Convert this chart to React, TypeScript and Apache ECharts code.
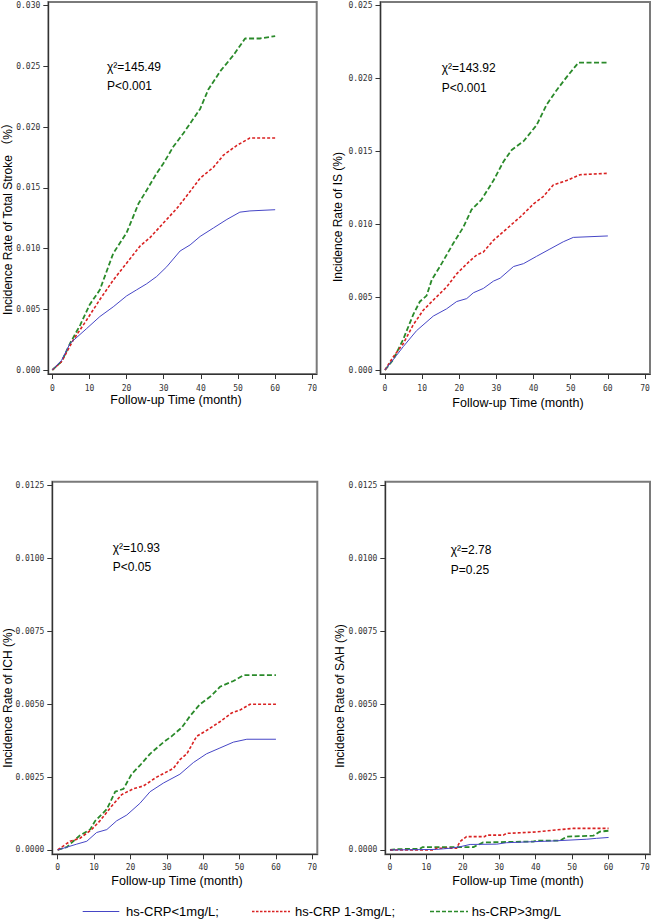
import React, { useEffect, useRef } from "react";
import * as echarts from "echarts";

// ---------- data ----------
const X_TICKS = [0, 10, 20, 30, 40, 50, 60, 70];
const Y_TICKS_TOTAL = [0, 0.005, 0.01, 0.015, 0.02, 0.025, 0.03];
const Y_TICKS_IS = [0, 0.005, 0.01, 0.015, 0.02, 0.025];
const Y_TICKS_SMALL = [0, 0.0025, 0.005, 0.0075, 0.01, 0.0125];

const GROUPS = ["hs-CRP<1mg/L;", "hs-CRP 1-3mg/L;", "hs-CRP>3mg/L"];

const totalLow = [[0,0],[2.5,0.0008],[4.8,0.0022],[9.2,0.0034],[12.8,0.0044],[16.4,0.0052],[20,0.0061],[22.7,0.0066],[25.4,0.0071],[28.1,0.0077],[30.8,0.0085],[34.4,0.0098],[37.1,0.0103],[39.8,0.011],[43.4,0.0117],[47,0.0124],[50.5,0.013],[53.2,0.0131],[60,0.0132]];
const totalMid = [[0,0],[2.5,0.0007],[5.7,0.0025],[9.2,0.0041],[12.8,0.0058],[16.4,0.0074],[20,0.0088],[23.6,0.0102],[26.3,0.0109],[29.9,0.0121],[33.5,0.0133],[36.6,0.0145],[39.8,0.0158],[43.4,0.0167],[46.1,0.0177],[49.7,0.0185],[53.2,0.0191],[60,0.0191]];
const totalHigh = [[0,0],[2.5,0.0007],[4.8,0.0022],[7.5,0.0037],[10.1,0.0054],[12.8,0.0066],[16.4,0.0096],[20,0.0113],[23.2,0.0137],[25.4,0.0148],[28.1,0.0162],[29.9,0.017],[32.6,0.0184],[35.3,0.0195],[39.8,0.0215],[42,0.0231],[45.2,0.0246],[48.7,0.0259],[51.9,0.0273],[55.9,0.0273],[60,0.0275]];

const isLow = [[0,0],[3.1,0.001],[4.9,0.0016],[8.5,0.0027],[13,0.0037],[16.6,0.0042],[19.3,0.0047],[22,0.0049],[23.8,0.0053],[26.5,0.0056],[29.2,0.0061],[31,0.0063],[34.6,0.0071],[37.3,0.0073],[40.8,0.0078],[44.4,0.0083],[48,0.0088],[50.7,0.0091],[60,0.0092]];
const isMid = [[0,0],[2.2,0.0009],[4.9,0.0018],[7.6,0.0031],[10.3,0.0041],[13,0.0048],[16.6,0.0057],[19.3,0.0066],[22.9,0.0075],[24.7,0.0079],[26.5,0.0081],[29.2,0.0089],[32.8,0.0097],[36.4,0.0105],[40,0.0114],[42.6,0.0119],[45.3,0.0127],[48.9,0.013],[52.5,0.0134],[60,0.0135]];
const isHigh = [[0,0],[2.2,0.0007],[4.9,0.0021],[7.6,0.0038],[9.4,0.0047],[11.2,0.0051],[12.6,0.0062],[14.8,0.0071],[18.4,0.0087],[21.1,0.0098],[23.3,0.011],[26,0.0117],[29.2,0.013],[31.9,0.0143],[34.1,0.0151],[37.3,0.0157],[40.8,0.0168],[43.5,0.0182],[46.2,0.0192],[48.9,0.0201],[52.1,0.0211],[60,0.0211]];

const ichLow = [[0,0],[5.2,0.0002],[8,0.0003],[10.7,0.0006],[13.5,0.0007],[16.2,0.001],[19,0.0012],[22.6,0.0016],[25.4,0.002],[29.1,0.0023],[33.6,0.0026],[37.3,0.003],[40.9,0.0033],[44.6,0.0035],[48.3,0.0037],[52,0.0038],[60,0.0038]];
const ichMid = [[0,0],[3.4,0.0003],[6.1,0.0004],[9.3,0.0007],[11.6,0.001],[14.8,0.0015],[17.6,0.0019],[20.8,0.0021],[23.6,0.0022],[27.2,0.0025],[31.8,0.0028],[33.6,0.0031],[35.5,0.0033],[38.2,0.0039],[40.9,0.0041],[44.6,0.0044],[47.8,0.0047],[50.1,0.0048],[52.9,0.005],[60,0.005]];
const ichHigh = [[0,0],[2.5,0.0001],[6.1,0.0005],[8.9,0.0007],[10.3,0.001],[13.5,0.0014],[15.8,0.002],[18.1,0.0021],[20.3,0.0026],[22.6,0.0029],[25.4,0.0033],[29.1,0.0037],[31.3,0.0039],[34.1,0.0042],[36.4,0.0046],[39.1,0.005],[42.3,0.0053],[44.6,0.0056],[48.3,0.0058],[51.1,0.006],[60,0.006]];

const sahLow = [[0,0],[12.8,0.00002],[16.5,0.00006],[19.2,0.00011],[22,0.00019],[29.3,0.0002],[32,0.00025],[44.8,0.00031],[54,0.00037],[56.7,0.0004],[60,0.00043]];
const sahMid = [[0,0],[12,0],[12.8,0.00006],[18.3,0.00006],[19.2,0.00029],[21,0.00046],[26,0.00046],[26.5,0.00051],[31.1,0.00051],[32,0.00057],[35.7,0.00059],[40.3,0.00062],[45.7,0.00069],[50.3,0.00074],[60,0.00074]];
const sahHigh = [[0,0],[2,0.00003],[8.2,0.00004],[9,0.0001],[22.9,0.0001],[25.6,0.00026],[39.3,0.00029],[40.3,0.00032],[46.7,0.00032],[48.5,0.00046],[55.8,0.00049],[57.6,0.00063],[60,0.00066]];

const Y_TITLES = ["Incidence Rate of Total Stroke （%）", "Incidence Rate of IS (%)", "Incidence Rate of ICH (%)", "Incidence Rate of SAH (%)"];
const STAT_CHI = ["χ²=145.49", "χ²=143.92", "χ²=10.93", "χ²=2.78"];
const STAT_P = ["P<0.001", "P<0.001", "P<0.05", "P=0.25"];
const X_TITLE = "Follow-up Time (month)";

// ---------- layout ----------
const PANELS = [
  { box: [48.3, 2, 316.7, 374], xr: [-1.077, 71.18], yr: [-0.000329, 0.030305], yt: Y_TICKS_TOTAL, dec: 3, data: [totalLow, totalMid, totalHigh],
    stat: [107, 67, 86], ytitle: [7.5, 216], xtitle: [176, 400], xlm: 10 },
  { box: [380.5, 2, 650, 374], xr: [-1.21, 71.35], yr: [-0.000274, 0.025254], yt: Y_TICKS_IS, dec: 3, data: [isLow, isMid, isHigh],
    stat: [441.7, 68, 88], ytitle: [338, 217], xtitle: [518, 403], xlm: 10 },
  { box: [52.3, 481.7, 317.3, 854.3], xr: [-1.485, 71.37], yr: [-0.000148, 0.012637], yt: Y_TICKS_SMALL, dec: 4, data: [ichLow, ichMid, ichHigh],
    stat: [112.7, 548, 567], ytitle: [7.5, 698], xtitle: [177, 881], xlm: 9 },
  { box: [385.3, 481.7, 650, 854.3], xr: [-1.29, 71.37], yr: [-0.000148, 0.012637], yt: Y_TICKS_SMALL, dec: 4, data: [sahLow, sahMid, sahHigh],
    stat: [450.7, 550, 569.5], ytitle: [340, 696], xtitle: [518, 881], xlm: 9 },
];

const LINE_STYLES = [
  { color: "#4646c6", width: 1, type: "solid" as any },
  { color: "#d92222", width: 1.6, type: [3, 2] as any },
  { color: "#2a8a2a", width: 1.8, type: [5, 2.5] as any },
];

const TEXT_FONT = '"Liberation Sans", Arial, "Noto Sans CJK SC", sans-serif';
const TICK_FONT = '"DejaVu Sans Mono", "Liberation Mono", monospace';

export default function App() {
  const ref = useRef<HTMLDivElement>(null);

  useEffect(() => {
    if (!ref.current) return;
    const chart = echarts.init(ref.current, undefined, { renderer: "svg" });

    const grid: any[] = [];
    const xAxis: any[] = [];
    const yAxis: any[] = [];
    const series: any[] = [];
    const graphic: any[] = [];

    PANELS.forEach((p, i) => {
      const [l, t, r, b] = p.box;
      grid.push({
        left: l, top: t, width: r - l, height: b - t,
        show: true, borderColor: "#7a7a7a", borderWidth: 2, backgroundColor: "transparent",
      });
      xAxis.push({
        type: "value", gridIndex: i, min: p.xr[0], max: p.xr[1],
        axisLine: { show: true, onZero: false, lineStyle: { color: "#333", width: 1 } },
        axisTick: { show: true, length: 5, customValues: X_TICKS, lineStyle: { color: "#333" } },
        axisLabel: { customValues: X_TICKS, margin: p.xlm, fontSize: 8, fontFamily: TICK_FONT, color: "#333" },
        splitLine: { show: false },
      });
      yAxis.push({
        type: "value", gridIndex: i, min: p.yr[0], max: p.yr[1],
        axisLine: { show: true, onZero: false, lineStyle: { color: "#333", width: 1 } },
        axisTick: { show: true, length: 5, customValues: p.yt, lineStyle: { color: "#333" } },
        axisLabel: {
          customValues: p.yt, margin: 8, fontSize: 8, fontFamily: TICK_FONT, color: "#333",
          formatter: (v: number) => v.toFixed(p.dec),
        },
        splitLine: { show: false },
      });
      p.data.forEach((d, k) => {
        series.push({
          type: "line", name: GROUPS[k], xAxisIndex: i, yAxisIndex: i, data: d,
          symbol: "none", showSymbol: false, silent: true, z: 3 + (2 - k),
          lineStyle: LINE_STYLES[k],
        });
      });
      graphic.push(
        { type: "text", x: p.stat[0], y: p.stat[1], style: { text: STAT_CHI[i], font: `12px ${TEXT_FONT}`, fill: "#000", textAlign: "left", textVerticalAlign: "middle" } },
        { type: "text", x: p.stat[0], y: p.stat[2], style: { text: STAT_P[i], font: `12px ${TEXT_FONT}`, fill: "#000", textAlign: "left", textVerticalAlign: "middle" } },
        { type: "text", x: p.ytitle[0], y: p.ytitle[1], rotation: Math.PI / 2, style: { text: Y_TITLES[i], font: `12px ${TEXT_FONT}`, fill: "#000", textAlign: "center", textVerticalAlign: "middle" } },
        { type: "text", x: p.xtitle[0], y: p.xtitle[1], style: { text: X_TITLE, font: `12.5px ${TEXT_FONT}`, fill: "#000", textAlign: "center", textVerticalAlign: "middle" } },
      );
    });

    // legend
    const LEG = [
      { x1: 82.7, x2: 119.3, tx: 126 },
      { x1: 252, x2: 290, tx: 295 },
      { x1: 430, x2: 468, tx: 471.7 },
    ];
    const ly = 911.5;
    LEG.forEach((g, k) => {
      const s = LINE_STYLES[k];
      graphic.push(
        { type: "line", shape: { x1: g.x1, y1: ly, x2: g.x2, y2: ly },
          style: { stroke: s.color, lineWidth: k === 0 ? 1 : 1.4, lineDash: k === 0 ? null : (k === 1 ? [2.5, 1.5] : [4, 2]) } },
        { type: "text", x: g.tx, y: ly, style: { text: GROUPS[k], font: `13px ${TEXT_FONT}`, fill: "#000", textAlign: "left", textVerticalAlign: "middle" } },
      );
    });

    chart.setOption({
      animation: false,
      backgroundColor: "#fff",
      grid, xAxis, yAxis, series, graphic,
    });
    return () => chart.dispose();
  }, []);

  return <div ref={ref} style={{ position: "absolute", left: 0, top: 0, width: 654, height: 921, background: "#fff" }} />;
}
